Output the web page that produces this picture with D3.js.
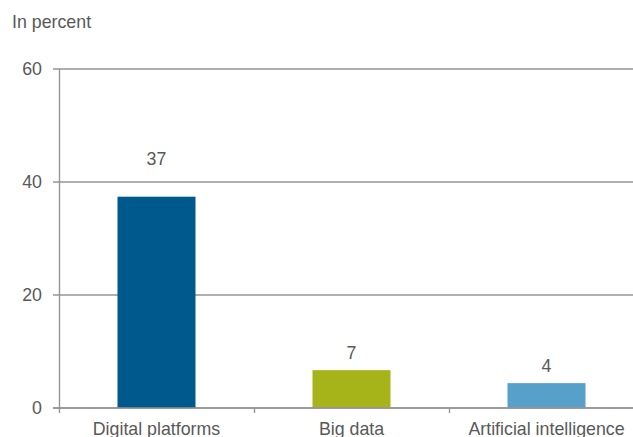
<!DOCTYPE html>
<html>
<head>
<meta charset="utf-8">
<script src="https://cdn.jsdelivr.net/npm/d3@7/dist/d3.min.js"></script>
<style>
  html, body { margin: 0; padding: 0; background: #fff; }
  svg { display: block; font-family: "Liberation Sans", Arial, sans-serif; }
</style>
</head>
<body>
<svg id="chart" width="633" height="437"></svg>
<script>
// Share of firms using each technology, in percent
const categories = ["Digital platforms", "Big data", "Artificial intelligence"];
const values = [37.4, 6.7, 4.4];
const colors = ["#00598c", "#a7b419", "#56a0c9"];
const yTicks = [0, 20, 40, 60];

const svg = d3.select("#chart");
const textColor = "#595959";
const lineColor = "#959595";
const lineWidth = 1.4;
const fontSize = 17.8;

const x = d3.scaleBand().domain(categories).range([59, 644]).paddingInner(0).paddingOuter(0);
const y = d3.scaleLinear().domain([0, 60]).range([408, 69]);

// unit label
svg.append("text")
  .attr("x", 12).attr("y", 28)
  .attr("fill", textColor).attr("font-size", fontSize)
  .text("In percent");

// horizontal gridlines and y tick labels
const yAxis = svg.append("g");
yAxis.selectAll("line.grid").data(yTicks).join("line")
  .attr("class", "grid")
  .attr("x1", 53).attr("x2", 644)
  .attr("y1", d => y(d)).attr("y2", d => y(d))
  .attr("stroke", lineColor).attr("stroke-width", lineWidth);
yAxis.selectAll("text").data(yTicks).join("text")
  .attr("x", 42).attr("y", d => y(d))
  .attr("dy", "0.35em")
  .attr("text-anchor", "end")
  .attr("fill", textColor).attr("font-size", fontSize)
  .text(d => d);

// vertical axis line
svg.append("line")
  .attr("x1", 59.5).attr("x2", 59.5)
  .attr("y1", y(60)).attr("y2", y(0) + 5)
  .attr("stroke", lineColor).attr("stroke-width", lineWidth);

// bars
svg.append("g").selectAll("rect").data(values).join("rect")
  .attr("x", (d, i) => x(categories[i]) + x.bandwidth() * 0.3)
  .attr("width", x.bandwidth() * 0.4)
  .attr("y", d => y(d))
  .attr("height", d => y(0) - y(d))
  .attr("fill", (d, i) => colors[i]);

// baseline redrawn over the bars
svg.append("line")
  .attr("x1", 53).attr("x2", 644)
  .attr("y1", y(0)).attr("y2", y(0))
  .attr("stroke", lineColor).attr("stroke-width", lineWidth);

// category axis: ticks at band boundaries, labels centred in each band
const xAxis = d3.axisBottom(x).tickSize(0).tickPadding(0);
const gx = svg.append("g").attr("transform", `translate(0,${y(0)})`).call(xAxis);
gx.select(".domain").remove();
gx.selectAll("text")
  .attr("y", 26.5).attr("dy", 0)
  .attr("fill", textColor).attr("font-size", fontSize)
  .attr("font-family", "Liberation Sans, Arial, sans-serif");
svg.append("g").selectAll("line").data(categories.slice(1)).join("line")
  .attr("x1", d => Math.round(x(d)) + 0.5).attr("x2", d => Math.round(x(d)) + 0.5)
  .attr("y1", y(0)).attr("y2", y(0) + 5)
  .attr("stroke", lineColor).attr("stroke-width", lineWidth);

// value labels above bars, lifted clear of a gridline when they would touch it
svg.append("g").selectAll("text").data(values).join("text")
  .attr("x", (d, i) => x(categories[i]) + x.bandwidth() / 2)
  .attr("y", d => {
    let base = y(d) - 11;
    const hit = yTicks.find(t => t > 0 && y(t) > base - 14 && y(t) < y(d));
    if (hit !== undefined) base = y(hit) - 17;
    return base;
  })
  .attr("text-anchor", "middle")
  .attr("fill", textColor).attr("font-size", fontSize)
  .text(d => Math.round(d));
</script>
</body>
</html>
